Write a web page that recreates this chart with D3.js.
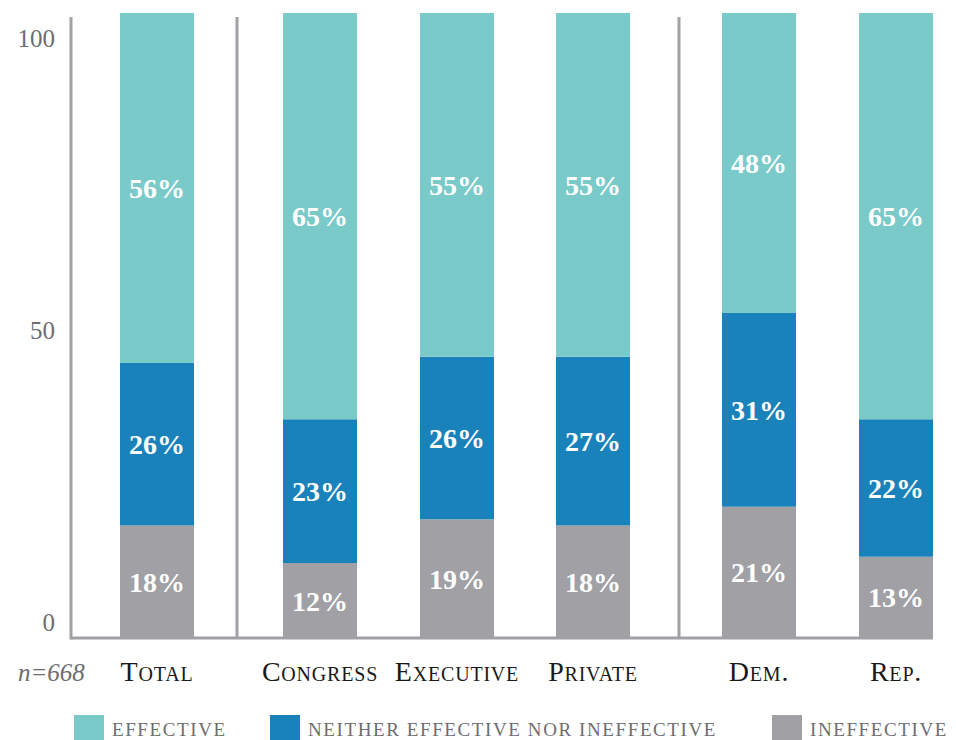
<!DOCTYPE html>
<html>
<head>
<meta charset="utf-8">
<script src="https://cdn.jsdelivr.net/npm/d3@7/dist/d3.min.js"></script>
<style>
body { margin: 0; background: #fff; }
svg text { font-family: "Liberation Serif", "DejaVu Serif", serif; }
</style>
</head>
<body>
<script>
var categories = ['Total', 'Congress', 'Executive', 'Private', 'Dem.', 'Rep.'];
var ineffective = [18, 12, 19, 18, 21, 13];
var neither = [26, 23, 26, 27, 31, 22];
var effective = [56, 65, 55, 55, 48, 65];
var yTicks = [0, 50, 100];
var seriesNames = ['effective', 'neither effective nor ineffective', 'ineffective'];

var _colors = {
    'effective': '#7acaca',
    'neither effective nor ineffective': '#1a82ba',
    'ineffective': '#a0a0a5'
};

var _width = 956, _height = 740;

var svg = d3.select('body').append('svg')
    .attr('width', _width).attr('height', _height);

var y = d3.scaleLinear().domain([0, 100]).range([638, 13]);
var yLabel = d3.scaleLinear().domain([0, 100]).range([622, 38]);

// bar centres sit on an uneven grid (group gaps)
var slotX = { 'Total': 157, 'Congress': 320, 'Executive': 457, 'Private': 593, 'Dem.': 759, 'Rep.': 896 };
var barW = 74;

var rows = categories.map(function(c, i){
    return { cat: c, 'ineffective': ineffective[i], 'neither effective nor ineffective': neither[i], 'effective': effective[i] };
});
var stack = d3.stack().keys(['ineffective', 'neither effective nor ineffective', 'effective']);
var layers = stack(rows);

// axis + separators
var lineCol = '#a0a0a5';
svg.append('line').attr('x1', 71).attr('x2', 71).attr('y1', 17).attr('y2', y(0) + 1.5)
    .attr('stroke', lineCol).attr('stroke-width', 3);
[237, 679].forEach(function(sx){
    svg.append('line').attr('x1', sx).attr('x2', sx).attr('y1', 17).attr('y2', y(0))
        .attr('stroke', lineCol).attr('stroke-width', 3);
});

var g = svg.append('g');
layers.forEach(function(layer){
    g.selectAll(null).data(layer).enter().append('rect')
        .attr('x', function(d){ return slotX[d.data.cat] - barW / 2; })
        .attr('y', function(d){ return y(d[1]); })
        .attr('width', barW)
        .attr('height', function(d){ return y(d[0]) - y(d[1]); })
        .attr('fill', _colors[layer.key]);
    g.selectAll(null).data(layer).enter().append('text')
        .attr('x', function(d){ return slotX[d.data.cat]; })
        .attr('y', function(d){ return (y(d[0]) + y(d[1])) / 2 + 10; })
        .attr('text-anchor', 'middle')
        .attr('fill', '#fff')
        .attr('font-weight', 'bold')
        .attr('font-size', 28)
        .text(function(d){ return (d[1] - d[0]) + '%'; });
});

svg.append('line').attr('x1', 71).attr('x2', 933).attr('y1', y(0)).attr('y2', y(0))
    .attr('stroke', lineCol).attr('stroke-width', 3);

// y tick labels
svg.selectAll('.ytick').data(yTicks).enter().append('text')
    .attr('class', 'ytick')
    .attr('x', 55)
    .attr('y', function(d){ return yLabel(d) + 9; })
    .attr('text-anchor', 'end')
    .attr('fill', '#6d6d72')
    .attr('font-size', 25)
    .text(function(d){ return d; });

// category labels
svg.selectAll('.cat').data(categories).enter().append('text')
    .attr('class', 'cat')
    .attr('x', function(d){ return slotX[d]; })
    .attr('y', 681)
    .attr('text-anchor', 'middle')
    .attr('fill', '#1a1a1a')
    .attr('font-size', 28)
    .attr('letter-spacing', 0.8)
    .style('font-variant', 'small-caps')
    .text(function(d){ return d; });

svg.append('text').attr('x', 18).attr('y', 681)
    .attr('fill', '#6d6d72').attr('font-size', 25).attr('font-style', 'italic')
    .text('n=668');

// legend
var legendX = [74, 270, 772];
seriesNames.forEach(function(s, i){
    svg.append('rect').attr('x', legendX[i]).attr('y', 715).attr('width', 30).attr('height', 30)
        .attr('fill', _colors[s]);
    svg.append('text').attr('x', legendX[i] + 38).attr('y', 736)
        .attr('fill', '#6d6d72').attr('font-size', 19).attr('letter-spacing', 1.6)
        .text(s.toUpperCase());
});
</script>
</body>
</html>
